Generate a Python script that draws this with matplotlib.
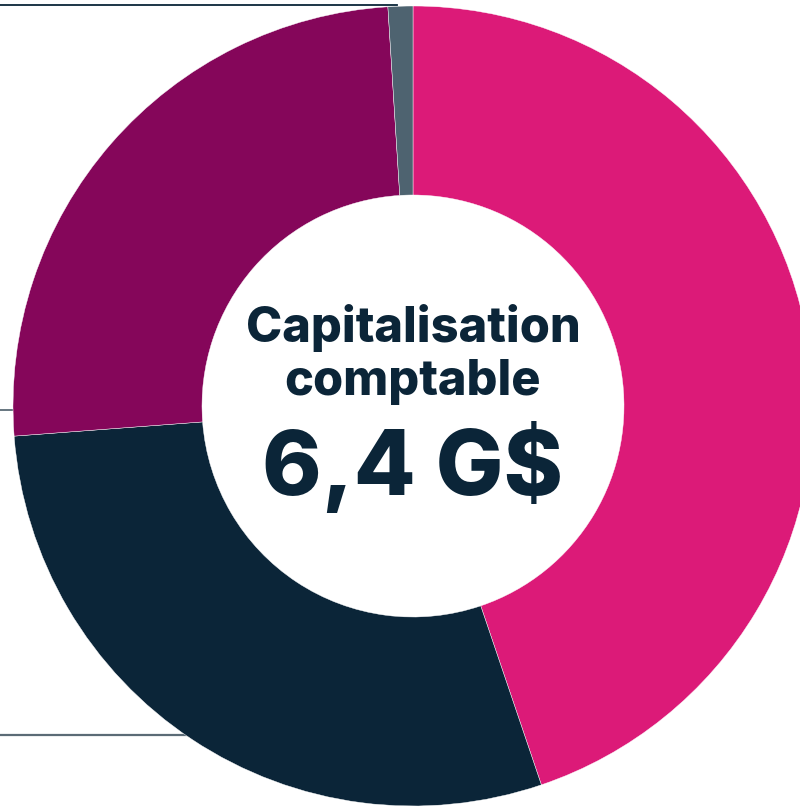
import matplotlib.pyplot as plt

# composition of book capitalisation (%), clockwise from the top
segments = ["A", "B", "C", "D"]
shares = [44.8, 29.0, 25.2, 1.0]
colors = ["#DC1A78", "#0B2538", "#85065A", "#4E6370"]

title_lines = ["Capitalisation", "comptable"]
total = "6,4 G$"

W, H = 800, 807
fig = plt.figure(figsize=(W / 100, H / 100), dpi=100)
ax = fig.add_axes([0, 0, 1, 1])

cx, cy = 413, H - 406
r_out, r_in = 400, 211

# leader lines running off the left edge
ax.plot([0, 397], [H - 5, H - 5], color="#0B2538", lw=1.3, zorder=0)
ax.plot([0, 20], [H - 410, H - 410], color="#5B6B76", lw=1.3, zorder=0)
ax.plot([0, 200], [H - 735, H - 735], color="#5B6B76", lw=1.6, zorder=0)

ax.pie(shares, colors=colors, startangle=90, counterclock=False,
       center=(cx, cy), radius=r_out, frame=True,
       wedgeprops=dict(width=r_out - r_in, edgecolor="white", linewidth=0.3))
ax.set_xlim(0, W)
ax.set_ylim(0, H)
ax.set_aspect("equal")
ax.axis("off")

font = dict(family=["Inter", "DejaVu Sans"], fontweight=800, color="#0B2538",
            ha="center", va="baseline")
ax.text(cx, H - 342, title_lines[0], fontsize=35, **font)
ax.text(cx, H - 395, title_lines[1], fontsize=35, **font)
ax.text(cx, H - 495, total, fontsize=65, **font)

fig.savefig("out.png", dpi=100)
